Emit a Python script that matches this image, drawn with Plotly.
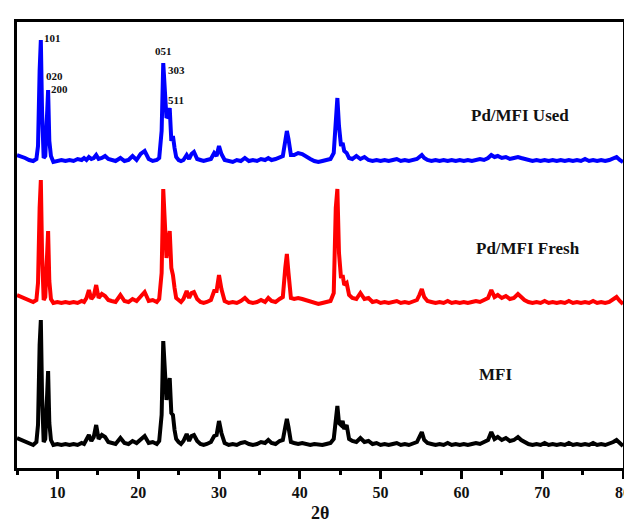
import plotly.graph_objects as go

# 2-theta grid (degrees), shared by all three patterns
two_theta = [
    5.0, 5.5, 6.0, 6.5, 7.0, 7.4, 7.6, 7.8, 7.95, 8.1,
    8.3, 8.5, 8.7, 8.85, 9.0, 9.2, 9.5, 10.0, 10.5, 11.0,
    11.5, 12.0, 12.5, 13.0, 13.3, 13.6, 13.9, 14.2, 14.5, 14.8,
    15.1, 15.5, 15.9, 16.3, 16.7, 17.2, 17.8, 18.3, 18.8, 19.3,
    19.8, 20.3, 20.8, 21.3, 21.8, 22.3, 22.6, 22.9, 23.1, 23.3,
    23.5, 23.7, 23.9, 24.1, 24.3, 24.5, 24.7, 25.0, 25.3, 25.6,
    26.0, 26.3, 26.6, 26.9, 27.3, 27.7, 28.1, 28.5, 29.0, 29.4,
    29.7, 30.0, 30.3, 30.7, 31.2, 31.7, 32.2, 32.7, 33.2, 33.7,
    34.2, 34.7, 35.2, 35.7, 36.1, 36.5, 37.0, 37.5, 37.9, 38.2,
    38.4, 38.6, 38.9, 39.3, 39.8, 40.3, 40.8, 41.3, 41.8, 42.3,
    42.8, 43.3, 43.8, 44.2, 44.45, 44.65, 44.85, 45.1, 45.3, 45.5,
    45.8, 46.1, 46.5, 47.0, 47.5, 48.0, 48.5, 49.0, 49.5, 50.0,
    50.5, 51.0, 51.5, 52.0, 52.5, 53.0, 53.5, 54.0, 54.5, 54.8,
    55.1, 55.4, 55.8, 56.3, 56.8, 57.3, 57.8, 58.3, 58.8, 59.3,
    59.8, 60.3, 60.8, 61.3, 61.8, 62.3, 62.8, 63.3, 63.7, 64.1,
    64.5, 65.0, 65.5, 66.0, 66.5, 67.0, 67.4, 67.8, 68.3, 68.8,
    69.3, 69.8, 70.3, 70.8, 71.3, 71.8, 72.3, 72.8, 73.3, 73.8,
    74.3, 74.8, 75.3, 75.8, 76.3, 76.8, 77.3, 77.8, 78.3, 78.8,
    79.2, 79.6, 80.0,
]

# Intensities (a.u., above each pattern's baseline)
mfi = [
    7, 5, 3, 1, 0, 3, 20, 100, 125, 50,
    3, 6, 45, 74, 22, 5, 0, 1, 0, 1,
    0, 1, 0, 2, 1, 6, 10, 4, 8, 20,
    6, 10, 8, 3, 2, 1, 7, 2, 1, 4,
    2, 6, 9, 2, 3, 1, 4, 30, 104, 75,
    45, 58, 67, 32, 30, 15, 6, 3, 1, 4,
    11, 4, 9, 10, 4, 1, 0, 1, 3, 9,
    10, 24, 12, 2, 0, 1, 0, 2, 3, 1,
    0, 1, 3, 2, 5, 2, 1, 4, 5, 18,
    26, 18, 3, 2, 1, 2, 1, 0, 1, 0,
    0, 1, 2, 6, 30, 39, 22, 20, 24, 16,
    20, 6, 4, 3, 7, 3, 4, 1, 2, 0,
    1, 0, 1, 2, 0, 1, 0, 1, 3, 8,
    13, 5, 2, 1, 0, 1, 0, 2, 0, 1,
    0, 1, 0, 1, 2, 1, 3, 5, 13, 6,
    8, 5, 7, 4, 5, 8, 5, 3, 1, 0,
    1, 0, 2, 0, 1, 0, 1, 0, 2, 0,
    1, 0, 1, 0, 2, 0, 1, 0, 1, 3,
    5, 2, -1,
]

pd_fresh = [
    8, 6, 4, 2, 1, 3, 20, 95, 123, 50,
    3, 6, 45, 72, 22, 4, 0, 1, 0, 1,
    0, 1, 0, 2, 1, 5, 13, 4, 7, 18,
    5, 9, 7, 3, 2, 1, 8, 2, 1, 4,
    2, 6, 11, 2, 3, 1, 4, 30, 114, 80,
    45, 60, 72, 35, 28, 15, 5, 3, 1, 4,
    12, 5, 10, 11, 4, 1, 0, 1, 3, 12,
    12, 28, 14, 2, 0, 1, 0, 2, 5, 1,
    0, 1, 3, 1, 5, 2, 1, 4, 6, 35,
    49, 30, 5, 4, 5, 4, 3, 2, 0, -1,
    0, 1, 2, 10, 95, 114, 50, 25, 28, 18,
    20, 8, 5, 4, 10, 4, 5, 1, 2, 0,
    1, 0, 1, 2, 0, 1, 0, 1, 3, 8,
    14, 6, 2, 1, 0, 1, 0, 2, 0, 1,
    0, 1, 0, 1, 2, 1, 3, 5, 13, 6,
    8, 5, 7, 4, 5, 9, 6, 3, 1, 0,
    1, 0, 2, 0, 1, 0, 1, 0, 2, 0,
    1, 0, 1, 0, 2, 0, 1, 0, 1, 4,
    6, 2, -1,
]

pd_used = [
    6, 5, 3, 1, 0, 2, 15, 90, 121, 50,
    3, 5, 40, 71, 20, 5, -1, 0, 1, 0,
    1, 0, 2, 1, 3, 1, 4, 2, 3, 6,
    2, 3, 5, 2, 1, 0, 3, 0, 1, 5,
    1, 7, 10, 2, 0, 1, 3, 30, 98, 70,
    43, 45, 53, 20, 25, 13, 4, 1, 0, 1,
    6, 2, 7, 9, 2, 1, 0, 1, 2, 8,
    5, 15, 7, 1, 0, -1, 1, 0, 3, 0,
    1, 0, 2, 1, 3, 1, 2, 4, 5, 20,
    30, 22, 6, 6, 8, 7, 4, 2, 0, -1,
    0, 1, 2, 8, 50, 63, 35, 15, 18, 10,
    8, 3, 2, 5, 2, 4, 1, 0, 1, 0,
    1, 0, 1, 2, 0, 1, 0, 1, 2, 4,
    6, 3, 1, 0, 1, 0, 1, 0, 1, 0,
    1, 0, 1, 0, 1, 2, 1, 3, 6, 4,
    5, 3, 4, 2, 3, 4, 3, 2, 1, 0,
    1, 0, 1, 0, 1, 0, 1, 0, 1, 0,
    1, 0, 2, 0, 1, 0, 1, 0, 1, 3,
    4, 1, -1,
]

series_names = ["MFI", "Pd/MFI Fresh", "Pd/MFI Used"]
series_values = [mfi, pd_fresh, pd_used]
series_offsets = [23, 165, 307]
series_colors = ["#000000", "#ff0000", "#0000ff"]

# sample labels: (text, x, y)
sample_labels = [("MFI", 64.2, 94), ("Pd/MFI Fresh", 68.2, 220), ("Pd/MFI Used", 67.2, 353)]
# Miller indices: (text, x, y)
hkl_labels = [("101", 9.45, 430), ("020", 9.7, 392), ("200", 10.2, 379),
              ("051", 23.1, 417), ("303", 24.8, 398), ("511", 24.7, 368)]

x_ticks = [10, 20, 30, 40, 50, 60, 70, 80]

for vals in series_values:
    assert len(vals) == len(two_theta), len(vals)

serif = "Liberation Serif, Times New Roman, serif"

fig = go.Figure()
for name, vals, off, col in zip(series_names, series_values, series_offsets, series_colors):
    fig.add_trace(go.Scatter(
        x=two_theta, y=[v + off for v in vals], mode="lines", name=name,
        line=dict(color=col, width=4), showlegend=False,
    ))

for text, x, y in sample_labels:
    fig.add_annotation(x=x, y=y, text=text, showarrow=False,
                       font=dict(family=serif, size=17, color="#111", weight="bold"))
for text, x, y in hkl_labels:
    fig.add_annotation(x=x, y=y, text=text, showarrow=False,
                       font=dict(family=serif, size=11, color="#111", weight="bold"))

fig.add_annotation(x=0.5, y=-0.1, xref="paper", yref="paper", text="2θ",
                   showarrow=False, yanchor="middle",
                   font=dict(family=serif, size=18, color="#111", weight="bold"))

fig.update_layout(
    width=632, height=523,
    margin=dict(l=9, r=11, t=14, b=63),
    paper_bgcolor="white", plot_bgcolor="white",
    xaxis=dict(
        range=[5, 80], tickvals=x_ticks, ticks="outside", ticklen=8, tickwidth=2.5,
        tickcolor="black", showline=True, linecolor="black", linewidth=3, mirror=True,
        showgrid=False, zeroline=False,
        tickfont=dict(family=serif, size=16, color="#111", weight="bold"),
        minor=dict(ticks="outside", ticklen=4, tickwidth=2.5, tickcolor="black",
                   tick0=5, dtick=5, showgrid=False),
    ),
    yaxis=dict(
        range=[0, 446], showticklabels=False, ticks="", showgrid=False, zeroline=False,
        showline=True, linecolor="black", linewidth=3, mirror=True,
    ),
)

fig.write_html("out.html")
